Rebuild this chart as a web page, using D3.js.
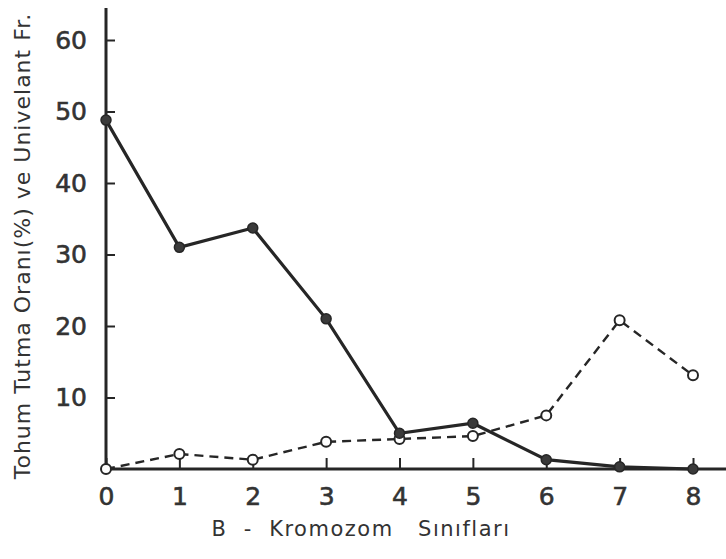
<!DOCTYPE html>
<html>
<head>
<meta charset="utf-8">
<script src="https://cdn.jsdelivr.net/npm/d3@7"></script>
<style>
  body { margin: 0; background: #fff; }
  svg { display: block; }
  text { font-family: "DejaVu Sans", sans-serif; fill: #333; }
</style>
</head>
<body>
<svg width="726" height="559"></svg>
<script>
// B kromozom sınıfları
var classes = [0, 1, 2, 3, 4, 5, 6, 7, 8];
// tohum tutma oranı (dolu daire, düz çizgi)
var seedSet = [48.8, 31, 33.7, 21, 5, 6.4, 1.3, 0.3, 0];
// univalent frekansı (boş daire, kesikli çizgi)
var univalent = [0, 2.1, 1.3, 3.8, 4.2, 4.6, 7.5, 20.8, 13.1];
var yTicks = [10, 20, 30, 40, 50, 60];
var xTicks = [0, 1, 2, 3, 4, 5, 6, 7, 8];

var svg = d3.select("svg");
var ink = "#262626";

var x = d3.scaleLinear().domain([0, 8]).range([106, 693]);
var y = d3.scaleLinear().domain([0, 60]).range([469, 40]);

// y ekseni
var yAxis = svg.append("g")
  .attr("transform", "translate(" + x(0) + ",0)")
  .call(d3.axisLeft(y).tickValues(yTicks).tickSizeInner(-9).tickSizeOuter(0).tickPadding(19));
yAxis.select(".domain").remove();
yAxis.selectAll("line").attr("stroke", ink).attr("stroke-width", 2);
yAxis.selectAll("text")
  .attr("font-size", 25).attr("font-family", "DejaVu Sans")
  .attr("fill", "#333").attr("stroke", "#333").attr("stroke-width", 0.6);

svg.append("line")
  .attr("x1", x(0)).attr("x2", x(0))
  .attr("y1", 8).attr("y2", y(0))
  .attr("stroke", ink).attr("stroke-width", 3);

// x ekseni
var xAxis = svg.append("g")
  .attr("transform", "translate(0," + y(0) + ")")
  .call(d3.axisBottom(x).tickValues(xTicks).tickSizeInner(-11).tickSizeOuter(0).tickPadding(18));
xAxis.select(".domain").remove();
xAxis.selectAll("line").attr("stroke", ink).attr("stroke-width", 2);
xAxis.selectAll("text")
  .attr("font-size", 25).attr("font-family", "DejaVu Sans")
  .attr("fill", "#333").attr("stroke", "#333").attr("stroke-width", 0.6);

svg.append("line")
  .attr("x1", x(0)).attr("x2", 726)
  .attr("y1", y(0)).attr("y2", y(0))
  .attr("stroke", ink).attr("stroke-width", 3);

// çizgiler
var line = d3.line()
  .x(function (d, i) { return x(classes[i]); })
  .y(function (d) { return y(d); });

svg.append("path")
  .datum(univalent)
  .attr("d", line)
  .attr("fill", "none")
  .attr("stroke", ink)
  .attr("stroke-width", 2.4)
  .attr("stroke-dasharray", "9,6");

svg.append("path")
  .datum(seedSet)
  .attr("d", line)
  .attr("fill", "none")
  .attr("stroke", ink)
  .attr("stroke-width", 3.2);

svg.append("g").selectAll("circle")
  .data(univalent)
  .enter()
  .append("circle")
  .attr("cx", function (d, i) { return x(classes[i]); })
  .attr("cy", function (d) { return y(d); })
  .attr("r", 5)
  .attr("fill", "#fff")
  .attr("stroke", ink)
  .attr("stroke-width", 2);

svg.append("g").selectAll("circle")
  .data(seedSet)
  .enter()
  .append("circle")
  .attr("cx", function (d, i) { return x(classes[i]); })
  .attr("cy", function (d) { return y(d); })
  .attr("r", 5)
  .attr("fill", "#3a3a3a")
  .attr("stroke", ink)
  .attr("stroke-width", 1.5);

// eksen başlıkları
svg.append("text")
  .attr("x", 361)
  .attr("y", 536)
  .attr("text-anchor", "middle")
  .attr("font-size", 21)
  .attr("letter-spacing", 1.5)
  .style("white-space", "pre")
  .text("B  -  Kromozom   Sınıfları");

svg.append("text")
  .attr("transform", "translate(30,246) rotate(-90)")
  .attr("text-anchor", "middle")
  .attr("font-size", 22)
  .attr("letter-spacing", 1)
  .text("Tohum Tutma Oranı(%) ve Univelant Fr.");
</script>
</body>
</html>
